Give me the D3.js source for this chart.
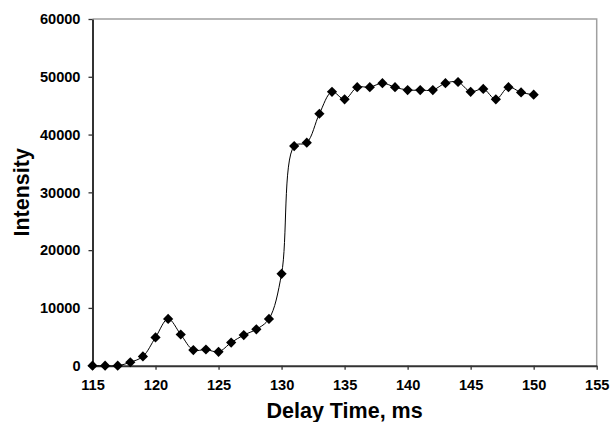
<!DOCTYPE html>
<html>
<head>
<meta charset="utf-8">
<script src="https://cdn.jsdelivr.net/npm/d3@7"></script>
<style>
  body { margin: 0; background: #fff; }
  svg text { font-family: Arial, "Liberation Sans", sans-serif; font-weight: bold; fill: #000; }
</style>
</head>
<body>
<div id="chart"></div>
<script>
// delay time (ms) and measured intensity
const delayTimes = [115, 116, 117, 118, 119, 120, 121, 122, 123, 124, 125, 126, 127, 128, 129, 130,
                    131, 132, 133, 134, 135, 136, 137, 138, 139, 140, 141, 142, 143, 144, 145, 146,
                    147, 148, 149, 150];
const intensities = [0, 0, 0, 600, 1600, 4900, 8100, 5400, 2700, 2800, 2400, 4000, 5300, 6300, 8100, 15900,
                     38000, 38600, 43600, 47400, 46100, 48200, 48200, 48900, 48200, 47700, 47700, 47700, 48900, 49100, 47400, 47900,
                     46100, 48200, 47300, 46900];
const xTicks = [115, 120, 125, 130, 135, 140, 145, 150, 155];
const yTicks = [0, 10000, 20000, 30000, 40000, 50000, 60000];

const ctx = {
    W: 611,
    H: 422,
    left: 92.5,
    right: 596.7,
    top: 19,
    bottom: 365.7,
};

function createViz() {
    const svg = d3.select("#chart").append("svg")
                  .attr("width", ctx.W)
                  .attr("height", ctx.H);

    const x = d3.scaleLinear().domain([115, 155]).range([ctx.left, ctx.right]);
    const y = d3.scaleLinear().domain([0, 60000]).range([ctx.bottom, ctx.top]);

    // gray frame on top and right
    svg.append("path")
       .attr("d", `M${ctx.left},${ctx.top}H${ctx.right}V${ctx.bottom}`)
       .attr("fill", "none")
       .attr("stroke", "#a0a0a0")
       .attr("stroke-width", 1.5);

    const xAxis = svg.append("g")
       .attr("transform", `translate(0,${ctx.bottom})`)
       .call(d3.axisBottom(x).tickValues(xTicks).tickSize(4).tickSizeOuter(0).tickPadding(10));

    const yAxis = svg.append("g")
       .attr("transform", `translate(${ctx.left},0)`)
       .call(d3.axisLeft(y).tickValues(yTicks).tickSize(4).tickSizeOuter(0).tickPadding(8).tickFormat(d3.format("d")));

    [xAxis, yAxis].forEach(g => {
        g.select(".domain").attr("stroke", "#333").attr("stroke-width", 2);
        g.selectAll(".tick line").attr("stroke", "#333").attr("stroke-width", 1.3);
        g.selectAll(".tick text").style("font-size", "14.6px").attr("fill", "#000");
    });

    const data = delayTimes.map((t, i) => ({ t: t, v: intensities[i] }));

    svg.append("path")
       .datum(data)
       .attr("d", d3.line().x(d => x(d.t)).y(d => y(d.v)).curve(d3.curveCatmullRom.alpha(0.5)))
       .attr("fill", "none")
       .attr("stroke", "#000")
       .attr("stroke-width", 1);

    svg.append("g")
       .selectAll("path")
       .data(data)
       .enter()
       .append("path")
       .attr("d", d3.symbol(d3.symbolSquare, 52))
       .attr("transform", d => `translate(${x(d.t)},${y(d.v)}) rotate(45)`)
       .attr("fill", "#000");

    svg.append("text")
       .attr("x", (ctx.left + ctx.right) / 2)
       .attr("y", 417.5)
       .attr("text-anchor", "middle")
       .style("font-size", "21.5px")
       .text("Delay Time, ms");

    svg.append("text")
       .attr("transform", `translate(28.5,${(ctx.top + ctx.bottom) / 2}) rotate(-90)`)
       .attr("text-anchor", "middle")
       .style("font-size", "21.5px")
       .text("Intensity");
}

createViz();
</script>
</body>
</html>
